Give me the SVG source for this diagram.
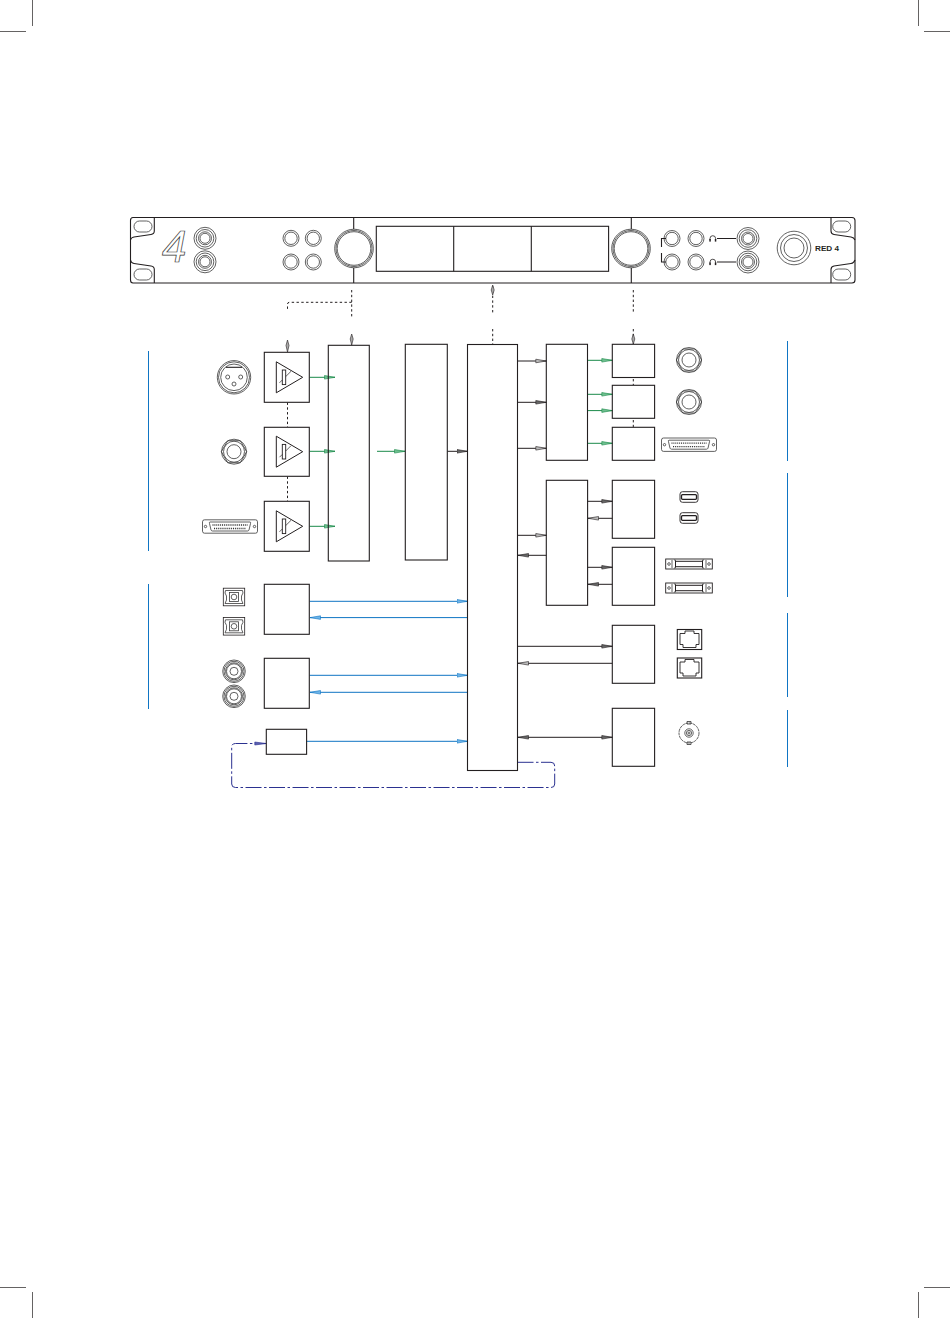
<svg xmlns="http://www.w3.org/2000/svg" width="950" height="1318" viewBox="0 0 950 1318">
<style>
text{font-family:"Liberation Sans",Arial,sans-serif}
.b{fill:#fff;stroke:#231f20;stroke-width:1.1}
.o{fill:none;stroke:#231f20;stroke-width:1.1}
.t{fill:none;stroke:#231f20;stroke-width:1.1}
.g{fill:none;stroke:#3a3a3a;stroke-width:.8}
.k{fill:none;stroke:#231f20;stroke-width:1}
.gr{fill:none;stroke:#1b8a4a;stroke-width:1}
.bl{fill:none;stroke:#0f75c4;stroke-width:1}
.dd{fill:none;stroke:#2b3190;stroke-width:1;stroke-dasharray:16 2.5 2.5 2.5}
.dot{fill:none;stroke:#231f20;stroke-width:1;stroke-dasharray:2.4 2.4}
.side{fill:none;stroke:#0f75c4;stroke-width:1}
</style>
<defs>
<marker id="ak" markerUnits="userSpaceOnUse" markerWidth="12" markerHeight="6" refX="11" refY="3" orient="auto-start-reverse"><path d="M.5 1.200L11 3L.5 4.800Z" fill="#666" stroke="#231f20" stroke-width=".6"/></marker>
<marker id="ag" markerUnits="userSpaceOnUse" markerWidth="12" markerHeight="6" refX="11" refY="3" orient="auto-start-reverse"><path d="M.5 1.200L11 3L.5 4.800Z" fill="#6fbf8f" stroke="#1b8a4a" stroke-width=".6"/></marker>
<marker id="ab" markerUnits="userSpaceOnUse" markerWidth="12" markerHeight="6" refX="11" refY="3" orient="auto-start-reverse"><path d="M.5 1.200L11 3L.5 4.800Z" fill="#6eb4e8" stroke="#0f75c4" stroke-width=".6"/></marker>
<marker id="an" markerUnits="userSpaceOnUse" markerWidth="13" markerHeight="6" refX="12" refY="3" orient="auto-start-reverse"><path d="M.5 1.500L12 3L.5 4.500Z" fill="#5a5fb0" stroke="#2b3190" stroke-width=".6"/></marker>
<marker id="ad" markerUnits="userSpaceOnUse" markerWidth="12" markerHeight="6" refX="11" refY="3" orient="auto-start-reverse"><path d="M.5 1.200L11 3L.5 4.800Z" fill="#bbb" stroke="#231f20" stroke-width=".6"/></marker>
<g id="amp"><path d="M-10.700 -15.500L15.700 0L-10.700 15.500Z" fill="#fff" stroke="#231f20" stroke-width="1"/><rect x="-4.700" y="-7.300" width="3.400" height="14.600" fill="#fff" stroke="#231f20" stroke-width=".9"/><path fill="none" stroke="#231f20" stroke-width=".7" d="M-7.500 5.500L-4.700 2.700M-1.300 -.700L4 -6"/></g>
<g id="btn"><circle r="8" class="g"/><circle r="6.200" class="g"/></g>
<g id="jack"><circle r="11" class="g"/><circle r="8.800" class="g"/><circle r="6.500" class="g"/><circle r="5" class="g"/></g>
<g id="hex"><path class="g" d="M-6.300 -11L6.300 -11L12.700 0L6.300 11L-6.300 11L-12.700 0Z"/><circle r="12.500" class="g"/><circle r="10.500" class="g"/><circle r="7" class="g"/></g>
<g id="dsub"><rect x="-27.500" y="-6.700" width="55" height="13.400" rx="2" class="g"/><path class="g" d="M-20 -4.500H20Q21 -4.500 20.500 -3L19 3.500Q18.500 4.500 17.500 4.500H-17.500Q-18.500 4.500 -19 3.500L-20.500 -3Q-21 -4.500 -20 -4.500Z"/><path d="M-17.500 -1.500H17.500M-16 2H16" fill="none" stroke="#333" stroke-width="1.300" stroke-dasharray="1 .9"/><circle cx="-24.500" r="1.200" class="g"/><circle cx="24.500" r="1.200" class="g"/></g>
<g id="tos"><rect x="-10.700" y="-8.800" width="21.400" height="17.600" fill="none" stroke="#231f20" stroke-width=".8"/><path class="g" d="M-8.500 -6.500H8.500L9 -4L7.500 -1V3L9 6.500H-9L-7.500 3V-1L-9 -4Z"/><rect x="-4.500" y="-4.500" width="9" height="9" class="g"/><circle r="2.800" class="g"/></g>
<g id="rca"><circle r="11.300" class="g"/><circle r="10" class="g"/><circle r="8.500" class="g"/><circle r="7.500" class="g"/><circle r="4" class="g"/></g>
<g id="tb"><rect x="-9" y="-5.300" width="18" height="10.600" rx="2.500" fill="none" stroke="#231f20" stroke-width=".9"/><rect x="-7.500" y="-2.300" width="15" height="4.600" rx="1" fill="#fff" stroke="#231f20" stroke-width="1.300"/></g>
<g id="dl"><rect x="-23.300" y="-5" width="46.600" height="10" fill="none" stroke="#231f20" stroke-width=".9"/><path class="g" d="M-17 -4V4M17 -4V4M-15 -4H-13.500V4H-15M15 -4H13.500V4H15"/><rect x="-13.500" y="-2.700" width="27" height="5.400" fill="none" stroke="#231f20" stroke-width="1"/><circle cx="-20" r="1.300" class="g"/><circle cx="20" r="1.300" class="g"/></g>
<g id="rj"><rect x="-12.200" y="-10" width="24.400" height="20" class="t"/><path fill="none" stroke="#231f20" stroke-width=".9" d="M-9.500 -6H-4.500V-8.500H4.500V-6H9.500V5H6.500V8H-6.500V5H-9.500Z"/></g>
</defs>

<g id="crop-marks" fill="none" stroke="#231f20" stroke-width=".7">
<path d="M0 31.500H26M32.500 0V26M950 31.500H924M918.500 0V26M0 1287.500H26M32.500 1318V1292M950 1287.500H924M918.500 1318V1292"/>
</g>

<g id="front-panel">
<path d="M133 217.500H852Q855 217.500 855 220.500V280Q855 283 852 283H133Q130.500 283 130.500 280V220.500Q130.500 217.500 133 217.500Z" fill="#fff" stroke="#231f20" stroke-width="1.100"/>
<path class="t" stroke-width=".9" d="M154.300 217.500V231Q154.300 234 151 234.500L134 237Q131 237.500 130.500 240M154.300 283V269.500Q154.300 266.500 151 266L134 263.500Q131 263 130.500 260"/>
<path class="t" d="M831 217.500V231Q831 234 834 234.500L851 237Q854 237.500 855 240M831 283V269.500Q831 266.500 834 266L851 263.500Q854 263 855 260"/>
<rect x="134" y="221" width="18" height="11" rx="5.500" class="g"/><rect x="134" y="269" width="18" height="11" rx="5.500" class="g"/>
<rect x="832.700" y="221" width="18" height="11" rx="5.500" class="g"/><rect x="832.700" y="269" width="18" height="11" rx="5.500" class="g"/>
<text x="162" y="261.500" font-size="44" font-style="italic" fill="#fff" stroke="#333" stroke-width=".7" opacity=".99">4</text>
<use href="#jack" x="205" y="238.300"/><use href="#jack" x="205" y="261.800"/>
<use href="#btn" x="291" y="238.300"/><use href="#btn" x="313.300" y="238.300"/><use href="#btn" x="291" y="262"/><use href="#btn" x="313.300" y="262"/>
<path class="t" d="M353.700 217.500V229M353.700 268V283M631.300 217.500V229M631.300 268V283"/>
<circle cx="354" cy="248.500" r="19.300" fill="#fff" stroke="#333" stroke-width=".8"/><circle cx="354" cy="248.500" r="18" class="g"/><circle cx="354" cy="248.500" r="16.800" class="g"/>
<circle cx="631" cy="248.500" r="19.300" fill="#fff" stroke="#333" stroke-width=".8"/><circle cx="631" cy="248.500" r="18" class="g"/><circle cx="631" cy="248.500" r="16.800" class="g"/>
<rect x="376.300" y="226.300" width="232.300" height="45" class="o"/>
<path class="t" d="M453.700 226.300V271.300M531.300 226.300V271.300"/>
<use href="#btn" x="672" y="238.500"/><use href="#btn" x="696" y="238.500"/><use href="#btn" x="672" y="262"/><use href="#btn" x="696" y="262"/>
<path class="t" d="M666 238.500H661.500V247M661.500 253V262H666"/>
<g id="phones" fill="#231f20"><path fill="none" stroke="#231f20" stroke-width=".8" d="M710 240V238.500A2.800 2.800 0 0 1 715.600 238.500V240M710 263.500V262A2.800 2.800 0 0 1 715.600 262V263.500"/><rect x="709.300" y="239" width="1.500" height="2.600"/><rect x="714.800" y="239" width="1.500" height="2.600"/><rect x="709.300" y="262.500" width="1.500" height="2.600"/><rect x="714.800" y="262.500" width="1.500" height="2.600"/></g>
<path class="t" d="M717 238.500H736M717 262H736"/>
<use href="#jack" x="748" y="238.500"/><use href="#jack" x="748" y="262"/>
<circle cx="794" cy="248" r="16.800" class="g"/><circle cx="794" cy="248" r="13.500" class="g"/><circle cx="794" cy="248" r="10" class="g"/>
<text x="815" y="250.500" font-size="6.500" font-weight="700" fill="#231f20" textLength="24" lengthAdjust="spacingAndGlyphs" opacity=".99">RED 4</text>
</g>

<g id="connectors">
<path class="side" d="M148.500 351V551M148.500 584V709M787.500 341V461M787.500 473V597M787.500 613V697M787.500 710V767"/>
<path class="dot" d="M351.700 290V317M351.700 302.300H289.500Q287.500 302.300 287.500 304.300V309M287.500 402.500V427M287.500 476.500V501M492.700 286V313M492.700 329V344M633.300 290V313M633.300 329V344M633.300 379V385M633.300 420V427"/>
<g fill="#aaa" stroke="#231f20" stroke-width=".6"><path d="M287.500 340L289 345.500L287.500 352L286 345.500Z"/><path d="M351.700 334L353.200 339L351.700 345L350.200 339Z"/><path d="M492.700 285L494.200 290L492.700 295L491.200 290Z"/><path d="M633.300 334L634.800 339L633.300 344L631.800 339Z"/></g>
<path class="gr" marker-end="url(#ag)" d="M309.500 377.300H335"/>
<path class="gr" marker-end="url(#ag)" d="M309.500 451.300H335"/>
<path class="gr" marker-end="url(#ag)" d="M309.500 526.300H335"/>
<path class="gr" marker-end="url(#ag)" d="M377 451.300H405"/>
<path class="k" marker-end="url(#ak)" d="M447.500 451.300H467.500"/>
<path class="gr" marker-end="url(#ag)" d="M587.500 360.300H612.300"/>
<path class="gr" marker-end="url(#ag)" d="M587.500 394.300H612.300"/>
<path class="gr" marker-end="url(#ag)" d="M587.500 410.600H612.300"/>
<path class="gr" marker-end="url(#ag)" d="M587.500 443.300H612.300"/>
<path class="k" marker-end="url(#ad)" d="M517.500 361H546.300"/>
<path class="k" marker-end="url(#ak)" d="M517.500 402.300H546.300"/>
<path class="k" marker-end="url(#ad)" d="M517.500 448.300H546.300"/>
<path class="k" marker-end="url(#ad)" d="M517.500 535.300H546.300"/>
<path class="k" marker-end="url(#ak)" d="M546.300 555.300H518"/>
<path class="k" marker-end="url(#ak)" d="M587.500 501.300H612.300"/>
<path class="k" marker-end="url(#ad)" d="M612.300 518.300H588"/>
<path class="k" marker-end="url(#ak)" d="M587.500 567.300H612.300"/>
<path class="k" marker-end="url(#ak)" d="M612.300 584.300H588"/>
<path class="k" marker-end="url(#ak)" d="M517.500 646.300H612.300"/>
<path class="k" marker-end="url(#ad)" d="M612.300 663.300H518"/>
<path class="k" marker-start="url(#ak)" marker-end="url(#ak)" d="M518 737.300H612.300"/>
<path class="bl" marker-end="url(#ab)" d="M309.500 601.300H467.500"/>
<path class="bl" marker-end="url(#ab)" d="M467.500 617.600H310"/>
<path class="bl" marker-end="url(#ab)" d="M309.500 675.300H467.500"/>
<path class="bl" marker-end="url(#ab)" d="M467.500 692.300H310"/>
<path class="bl" marker-end="url(#ab)" d="M306.700 741.300H467.500"/>
<path class="dd" marker-end="url(#an)" d="M517.500 762.300H551Q554.700 762.300 554.700 766V784Q554.700 787.500 551 787.500H235.500Q231.700 787.500 231.700 784V747Q231.700 743.500 235.500 743.500H266.300"/>
</g>

<g id="node-amp1"><rect class="b" x="264.300" y="352.300" width="45" height="50"/><use href="#amp" x="287" y="377.300"/></g>
<g id="node-amp2"><rect class="b" x="264.300" y="427.300" width="45" height="49"/><use href="#amp" x="287" y="451.700"/></g>
<g id="node-amp3"><rect class="b" x="264.300" y="501.300" width="45" height="50"/><use href="#amp" x="287" y="526.300"/></g>
<g id="node-optical"><rect class="b" x="264.300" y="584.300" width="45" height="50"/></g>
<g id="node-spdif"><rect class="b" x="264.300" y="658.300" width="45" height="50"/></g>
<g id="node-wc"><rect class="b" x="266.300" y="729.300" width="40.300" height="25"/></g>
<g id="node-column1"><rect class="o" x="328.300" y="345.300" width="41" height="215.700"/></g>
<g id="node-column2"><rect class="o" x="405.300" y="344.300" width="42" height="215.700"/></g>
<g id="node-main"><rect class="o" x="467.500" y="344.500" width="50" height="426"/></g>
<g id="node-outmix"><rect class="o" x="546.300" y="344.300" width="41.200" height="116"/></g>
<g id="node-out1"><rect class="o" x="612.300" y="344.300" width="42.300" height="33.200"/></g>
<g id="node-out2"><rect class="o" x="612.300" y="385.300" width="42.300" height="33"/></g>
<g id="node-out3"><rect class="o" x="612.300" y="427.300" width="42.300" height="33"/></g>
<g id="node-digmix"><rect class="o" x="546.300" y="480.300" width="41.300" height="125"/></g>
<g id="node-dig1"><rect class="o" x="612.300" y="480.300" width="42.300" height="58"/></g>
<g id="node-dig2"><rect class="o" x="612.300" y="547.300" width="42.300" height="58"/></g>
<g id="node-net"><rect class="o" x="612.300" y="625.300" width="42.300" height="58"/></g>
<g id="node-clock"><rect class="o" x="612.300" y="708.300" width="42.300" height="58"/></g>

<g id="node-xlr"><circle cx="234" cy="377.300" r="16.700" class="g"/><circle cx="234" cy="377.300" r="15.500" class="g"/><circle cx="234" cy="377.300" r="13.300" class="g"/><path class="t" d="M226 367.300H242"/><circle cx="227.700" cy="377" r="2" class="g"/><circle cx="240.700" cy="377" r="2" class="g"/><circle cx="234" cy="384" r="2" class="g"/></g>
<use id="node-combo" href="#hex" x="234" y="451.700"/>
<use id="node-db25in" href="#dsub" x="230" y="526.500"/>
<use id="node-tos1" href="#tos" x="234" y="597"/>
<use id="node-tos2" href="#tos" x="234" y="626.300"/>
<use id="node-rca1" href="#rca" x="234" y="671.300"/>
<use id="node-rca2" href="#rca" x="234" y="696.300"/>
<use id="node-trs1" href="#hex" x="689" y="360"/>
<use id="node-trs2" href="#hex" x="689" y="402"/>
<use id="node-db25out" href="#dsub" x="689" y="444.700"/>
<use id="node-tb1" href="#tb" x="689" y="497"/>
<use id="node-tb2" href="#tb" x="689" y="518"/>
<use id="node-dl1" href="#dl" x="689" y="564"/>
<use id="node-dl2" href="#dl" x="689" y="588"/>
<use id="node-rj1" href="#rj" x="689.500" y="639.500"/>
<use id="node-rj2" href="#rj" x="689.500" y="668"/>
<g id="node-bnc"><path d="M687 721.500H691V724H687ZM687 742H691V744.500H687Z" fill="#fff" stroke="#333" stroke-width=".8"/><circle cx="689" cy="733" r="10" class="g" stroke-dasharray="3 .6"/><circle cx="689" cy="733" r="4.200" class="g"/><circle cx="689" cy="733" r="2.600" class="g"/><circle cx="689" cy="733" r="1" class="g"/></g>
</svg>
